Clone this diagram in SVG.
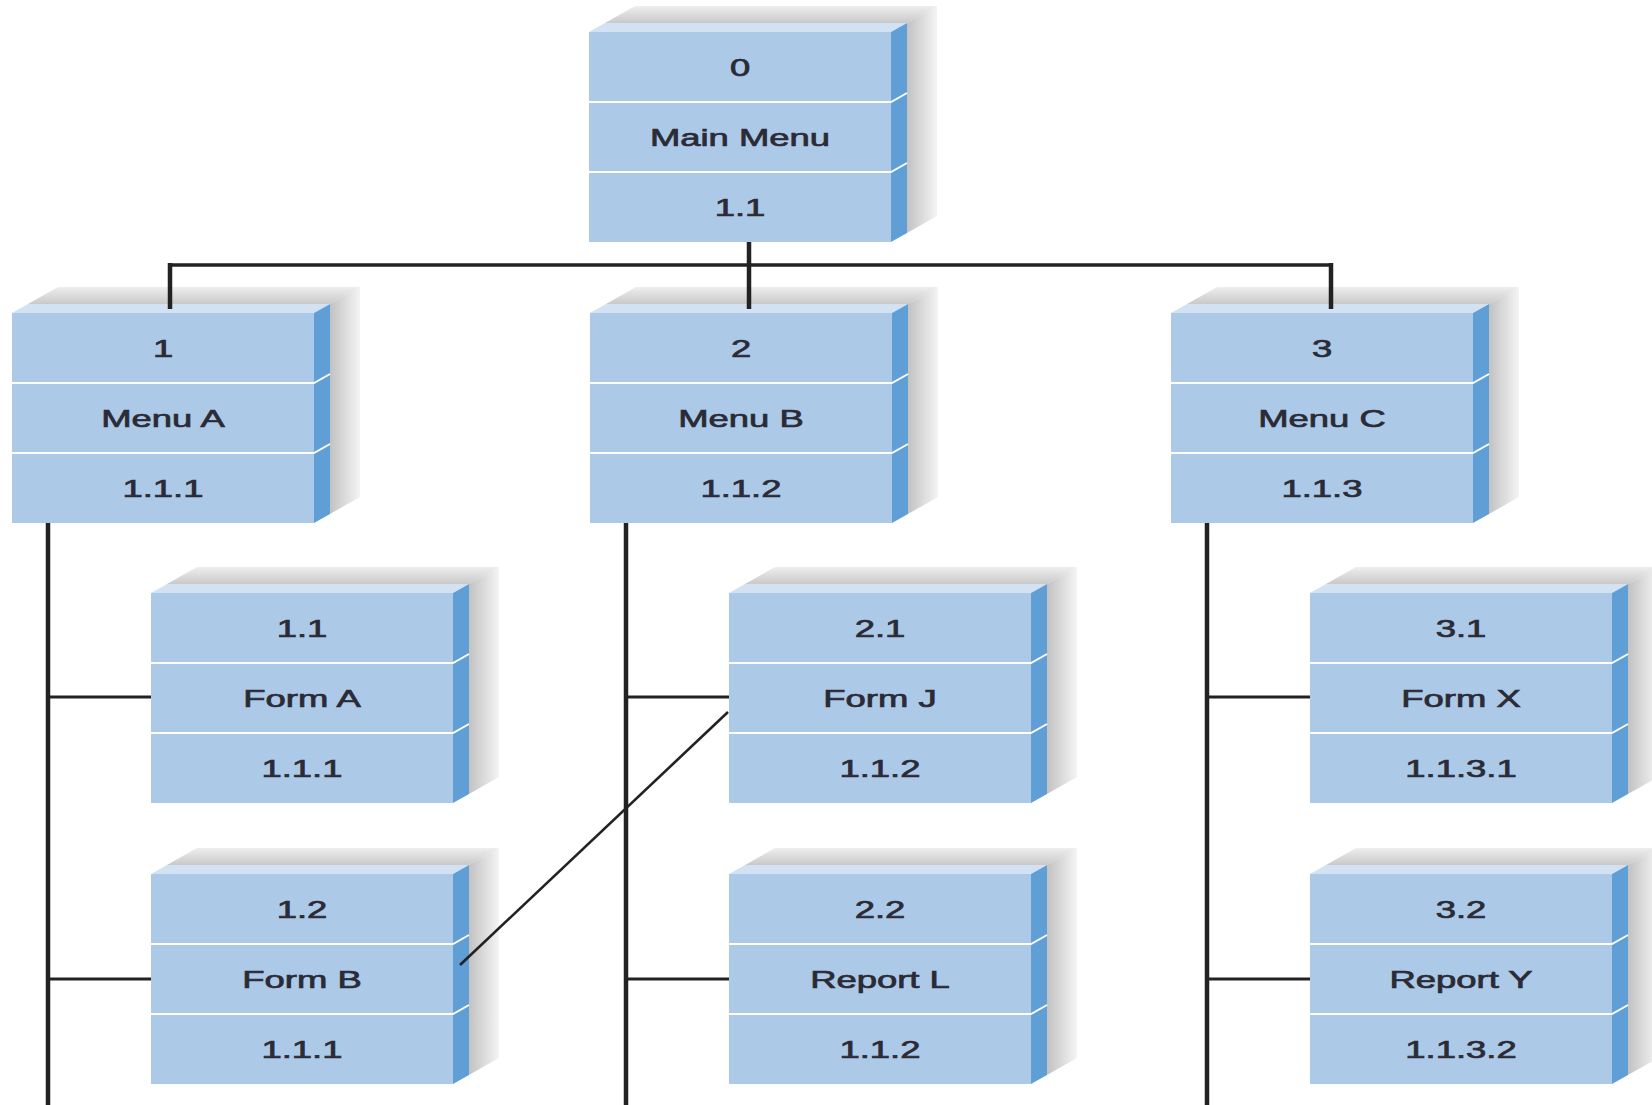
<svg xmlns="http://www.w3.org/2000/svg" xmlns:xlink="http://www.w3.org/1999/xlink" width="1652" height="1105" viewBox="0 0 1652 1105">
<style>
.t{font-family:"Liberation Sans",Arial,sans-serif;font-size:23.5px;fill:#2b2b36;stroke:#2b2b36;stroke-width:0.7px;text-anchor:middle}
.ln{stroke:#222;fill:none}
.trunk{stroke-width:4.5}
.bus{stroke-width:3.5}
.stub{stroke-width:3}
.diag{stroke-width:2.6}
</style>
<defs>
<linearGradient id="shTop" x1="0" y1="0" x2="0" y2="1">
<stop offset="0" stop-color="#eeeeee"/>
<stop offset="1" stop-color="#c9c9c9"/>
</linearGradient>
<linearGradient id="shRight" x1="0" y1="0" x2="1" y2="0">
<stop offset="0" stop-color="#c2c2c2"/>
<stop offset="1" stop-color="#f4f4f4"/>
</linearGradient>
<g id="cube">
<polygon points="16,-9 46,-26 348,-26 318,-9" fill="url(#shTop)"/>
<polygon points="318,-9 348,-26 348,184 318,201" fill="url(#shRight)"/>
<rect x="0" y="0" width="302" height="210" fill="#adc9e8"/>
<polygon points="0,0 16,-9 318,-9 302,0" fill="#d3e2f3"/>
<polygon points="302,0 318,-9 318,201 302,210" fill="#5f9fd6"/>
<path d="M0,70 H302 L318,61 M0,140 H302 L318,131" stroke="#ffffff" stroke-width="2" fill="none"/>
</g>
</defs>
<rect width="1652" height="1105" fill="#ffffff"/>

<g id="node-main">
<use xlink:href="#cube" x="589" y="32"/>
<text class="t" transform="translate(740 76) scale(1.55 1)">0</text>
<text class="t" transform="translate(740 146) scale(1.55 1)">Main Menu</text>
<text class="t" transform="translate(740 216) scale(1.55 1)">1.1</text>
</g>
<g id="node-menu-a">
<use xlink:href="#cube" x="12" y="313"/>
<text class="t" transform="translate(163 357) scale(1.55 1)">1</text>
<text class="t" transform="translate(163 427) scale(1.55 1)">Menu A</text>
<text class="t" transform="translate(163 497) scale(1.55 1)">1.1.1</text>
</g>
<g id="node-menu-b">
<use xlink:href="#cube" x="590" y="313"/>
<text class="t" transform="translate(741 357) scale(1.55 1)">2</text>
<text class="t" transform="translate(741 427) scale(1.55 1)">Menu B</text>
<text class="t" transform="translate(741 497) scale(1.55 1)">1.1.2</text>
</g>
<g id="node-menu-c">
<use xlink:href="#cube" x="1171" y="313"/>
<text class="t" transform="translate(1322 357) scale(1.55 1)">3</text>
<text class="t" transform="translate(1322 427) scale(1.55 1)">Menu C</text>
<text class="t" transform="translate(1322 497) scale(1.55 1)">1.1.3</text>
</g>
<g id="node-form-a">
<use xlink:href="#cube" x="151" y="593"/>
<text class="t" transform="translate(302 637) scale(1.55 1)">1.1</text>
<text class="t" transform="translate(302 707) scale(1.55 1)">Form A</text>
<text class="t" transform="translate(302 777) scale(1.55 1)">1.1.1</text>
</g>
<g id="node-form-b">
<use xlink:href="#cube" x="151" y="874"/>
<text class="t" transform="translate(302 918) scale(1.55 1)">1.2</text>
<text class="t" transform="translate(302 988) scale(1.55 1)">Form B</text>
<text class="t" transform="translate(302 1058) scale(1.55 1)">1.1.1</text>
</g>
<g id="node-form-j">
<use xlink:href="#cube" x="729" y="593"/>
<text class="t" transform="translate(880 637) scale(1.55 1)">2.1</text>
<text class="t" transform="translate(880 707) scale(1.55 1)">Form J</text>
<text class="t" transform="translate(880 777) scale(1.55 1)">1.1.2</text>
</g>
<g id="node-report-l">
<use xlink:href="#cube" x="729" y="874"/>
<text class="t" transform="translate(880 918) scale(1.55 1)">2.2</text>
<text class="t" transform="translate(880 988) scale(1.55 1)">Report L</text>
<text class="t" transform="translate(880 1058) scale(1.55 1)">1.1.2</text>
</g>
<g id="node-form-x">
<use xlink:href="#cube" x="1310" y="593"/>
<text class="t" transform="translate(1461 637) scale(1.55 1)">3.1</text>
<text class="t" transform="translate(1461 707) scale(1.55 1)">Form X</text>
<text class="t" transform="translate(1461 777) scale(1.55 1)">1.1.3.1</text>
</g>
<g id="node-report-y">
<use xlink:href="#cube" x="1310" y="874"/>
<text class="t" transform="translate(1461 918) scale(1.55 1)">3.2</text>
<text class="t" transform="translate(1461 988) scale(1.55 1)">Report Y</text>
<text class="t" transform="translate(1461 1058) scale(1.55 1)">1.1.3.2</text>
</g>

<g id="connectors">
<line class="ln trunk" x1="749" y1="242" x2="749" y2="309"/>
<line class="ln bus" x1="168" y1="265" x2="1333" y2="265"/>
<line class="ln trunk" x1="170" y1="263" x2="170" y2="309"/>
<line class="ln trunk" x1="1331" y1="263" x2="1331" y2="309"/>
<line class="ln trunk" x1="48" y1="523" x2="48" y2="1105"/>
<line class="ln trunk" x1="626" y1="523" x2="626" y2="1105"/>
<line class="ln trunk" x1="1207" y1="523" x2="1207" y2="1105"/>
<line class="ln stub" x1="48" y1="697" x2="151" y2="697"/>
<line class="ln stub" x1="48" y1="979" x2="151" y2="979"/>
<line class="ln stub" x1="626" y1="697" x2="729" y2="697"/>
<line class="ln stub" x1="626" y1="979" x2="729" y2="979"/>
<line class="ln stub" x1="1207" y1="697" x2="1310" y2="697"/>
<line class="ln stub" x1="1207" y1="979" x2="1310" y2="979"/>
<line class="ln diag" x1="460" y1="965" x2="728" y2="712"/>
</g>
</svg>
